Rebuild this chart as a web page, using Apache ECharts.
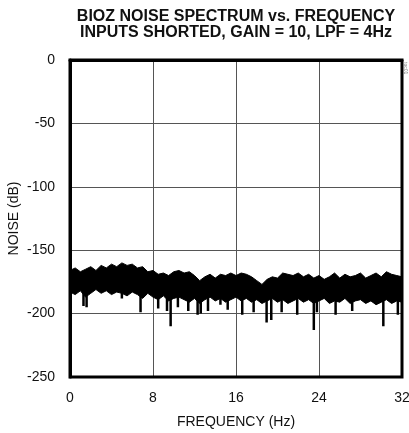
<!DOCTYPE html>
<html>
<head>
<meta charset="utf-8">
<script src="https://cdn.jsdelivr.net/npm/echarts@6/dist/echarts.min.js"></script>
<style>
    html, body { margin: 0; padding: 0; background: #fff; }
    #main { width: 409px; height: 433px; }
</style>
</head>
<body>
<div id="main"></div>
<script>
    // frequency grid for the noise band, 0.5 Hz steps
    var freqStep = 0.5;
    // top edge of the band (dB)
    var upper = [
        -166, -164, -167, -165, -163, -166, -162, -164, -161, -163,
        -160, -162, -161, -164, -163, -167, -166, -169, -168, -170,
        -167, -166, -168, -167, -170, -174, -171, -169, -172, -169,
        -170, -168, -170, -168, -169, -171, -174, -177, -173, -171,
        -172, -168, -169, -170, -168, -171, -169, -172, -170, -173,
        -171, -168, -172, -169, -171, -170, -168, -172, -170, -168,
        -171, -167, -169, -170, -171
    ];
    // bottom edge of the band (dB)
    var lower = [
        -183, -185, -182, -187, -184, -181, -184, -182, -185, -183,
        -184, -186, -183, -185, -188, -184, -187, -189, -186, -190,
        -188, -187, -189, -191, -188, -192, -189, -187, -190, -188,
        -191, -189, -187, -190, -188, -191, -189, -192, -190, -188,
        -191, -189, -192, -190, -188, -191, -189, -192, -190, -188,
        -192, -190, -191, -188, -192, -190, -189, -192, -190, -193,
        -191, -189, -192, -190, -191
    ];
    // downward spikes [Hz, dB]
    var spikes = [
        [1.3, -194], [1.6, -195], [5.0, -188], [6.8, -199], [8.5, -196],
        [9.35, -198], [9.7, -210], [10.4, -195], [11.4, -198], [12.3, -201],
        [12.6, -200], [13.3, -198], [14.5, -193], [15.2, -197], [16.6, -201],
        [17.7, -199], [18.95, -207], [19.4, -205], [20.4, -199], [21.9, -201],
        [23.5, -213], [23.8, -199], [25.6, -201], [27.2, -198], [30.2, -210],
        [31.6, -201]
    ];

    var bandData = [];
    for (var i = 0; i < upper.length; i++) {
        bandData.push([i * freqStep, upper[i], lower[i]]);
    }
    var spikeData = [];
    for (var j = 0; j < spikes.length; j++) {
        var k = Math.round(spikes[j][0] / freqStep);
        spikeData.push([spikes[j][0], lower[k] + 4]);
        spikeData.push([spikes[j][0], spikes[j][1]]);
        spikeData.push([spikes[j][0], '-']);
    }

    var myEchart = echarts.init(document.getElementById('main'));
    var font = 'Liberation Sans, Arial, sans-serif';

    // draws the whole band as one polygon: top edge forward, bottom edge back
    function renderBand(params, api) {
        if (params.dataIndex !== 0) return;
        var pts = [];
        for (var a = 0; a < bandData.length; a++) {
            pts.push(api.coord([bandData[a][0], bandData[a][1]]));
        }
        for (var b = bandData.length - 1; b >= 0; b--) {
            pts.push(api.coord([bandData[b][0], bandData[b][2]]));
        }
        return {
            type: 'polygon',
            shape: { points: pts },
            style: { fill: '#000', stroke: '#000', lineWidth: 1, lineJoin: 'miter' }
        };
    }

    var option = {
        animation: false,
        title: {
            text: 'BIOZ NOISE SPECTRUM vs. FREQUENCY\nINPUTS SHORTED, GAIN = 10, LPF = 4Hz',
            left: 231,
            top: 4,
            textAlign: 'center',
            textStyle: {
                fontFamily: font,
                fontWeight: 'bold',
                fontSize: 16,
                lineHeight: 16,
                color: '#111'
            }
        },
        grid: { left: 70, right: 7, top: 60, bottom: 56, outerBoundsMode: 'none', containLabel: false },
        xAxis: {
            type: 'value',
            min: 0, max: 32, interval: 8,
            name: 'FREQUENCY (Hz)',
            nameLocation: 'middle',
            nameGap: 38,
            nameMoveOverlap: false,
            nameTextStyle: { fontFamily: font, fontSize: 14, color: '#111' },
            axisLine: { lineStyle: { color: '#000', width: 3 } },
            axisTick: { show: false },
            axisLabel: { fontFamily: font, fontSize: 14, color: '#111', margin: 14 },
            splitLine: { lineStyle: { color: '#555', width: 1 } }
        },
        yAxis: {
            type: 'value',
            min: -250, max: 0, interval: 50,
            name: 'NOISE (dB)',
            nameLocation: 'middle',
            nameGap: 49,
            nameMoveOverlap: false,
            nameTextStyle: { fontFamily: font, fontSize: 14, color: '#111' },
            axisLine: { lineStyle: { color: '#000', width: 3 } },
            axisTick: { show: false },
            axisLabel: { fontFamily: font, fontSize: 14, color: '#111', margin: 15 },
            splitLine: { lineStyle: { color: '#555', width: 1 } }
        },
        graphic: [
            {
                type: 'rect',
                shape: { x: 70, y: 60, width: 332, height: 317 },
                style: { fill: 'none', stroke: '#000', lineWidth: 3 },
                silent: true,
                z: 10
            },
            {
                type: 'text',
                x: 408, y: 62,
                rotation: -Math.PI / 2,
                style: { text: 'toc01', fontSize: 5, fill: '#777', fontFamily: font }
            }
        ],
        series: [
            {
                type: 'custom',
                renderItem: renderBand,
                data: bandData,
                encode: { x: 0, y: [1, 2] },
                clip: true
            },
            {
                type: 'line',
                data: spikeData,
                symbol: 'none',
                connectNulls: false,
                lineStyle: { color: '#000', width: 2.5 }
            }
        ]
    };
    myEchart.setOption(option);
</script>
</body>
</html>
